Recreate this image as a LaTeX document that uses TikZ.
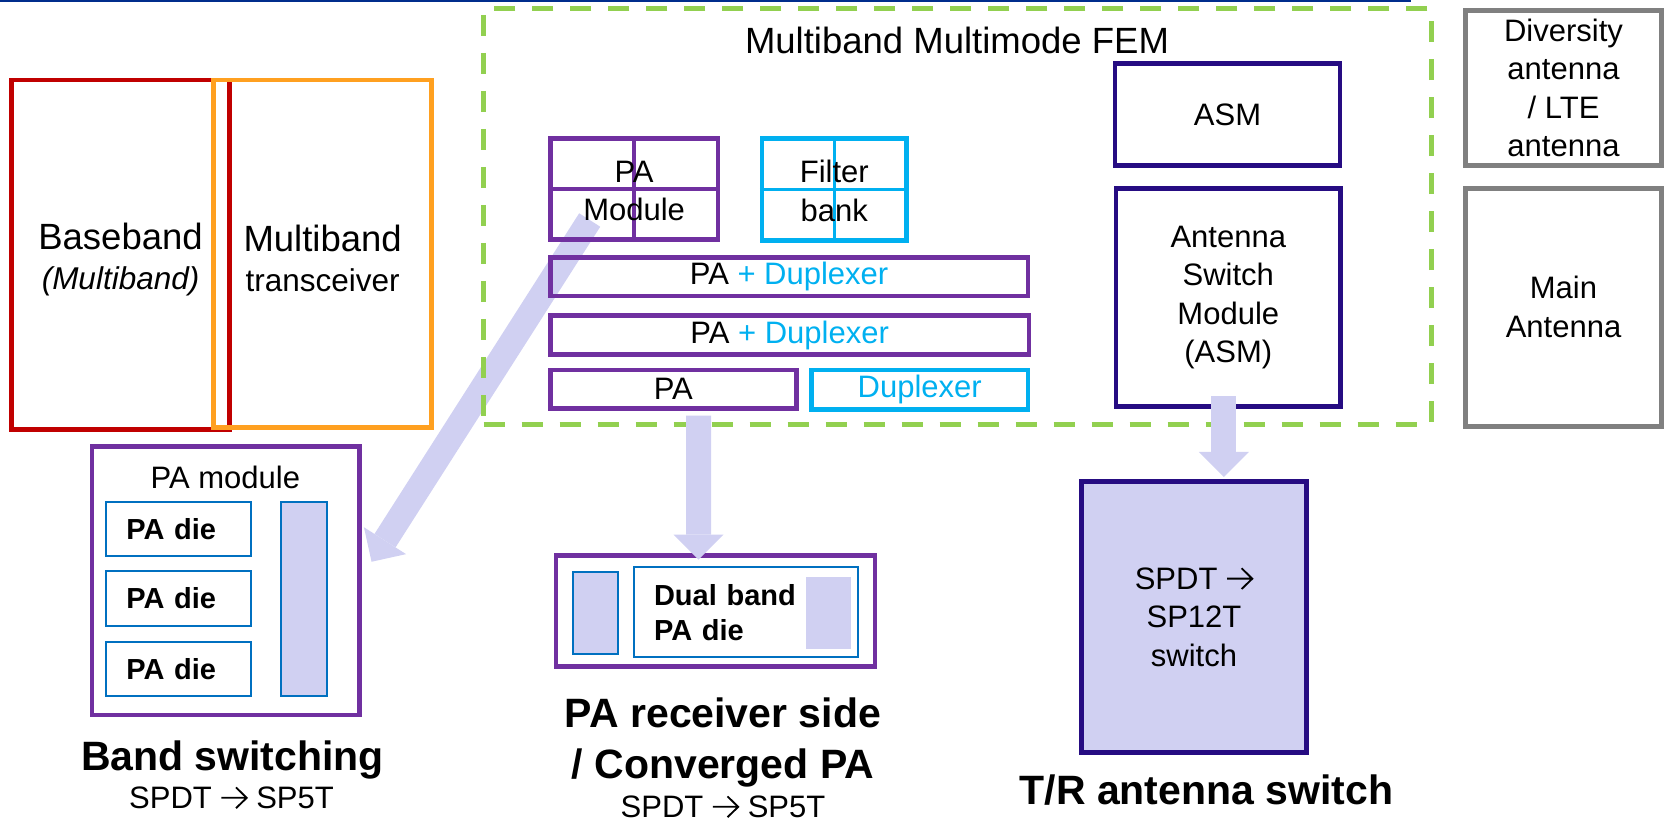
\documentclass[tikz,border=0pt]{standalone}
\usepackage{fontspec}
\setmainfont{Liberation Sans}
\usetikzlibrary{arrows.meta,backgrounds}

\definecolor{bbred}{HTML}{C00000}
\definecolor{trxorange}{HTML}{FFA020}
\definecolor{femgreen}{HTML}{92D050}
\definecolor{papurple}{HTML}{7030A0}
\definecolor{filtcyan}{HTML}{00B0F0}
\definecolor{asmindigo}{RGB}{38,12,130}
\definecolor{antgray}{HTML}{808080}
\definecolor{dieblue}{HTML}{0070C0}
\definecolor{lav}{RGB}{208,208,242}
\definecolor{slideblue}{RGB}{0,45,140}

\newcommand{\titlefont}{\fontsize{36.5}{40}\selectfont}
\newcommand{\subtitlefont}{\fontsize{31.5}{40}\selectfont}
\newcommand{\boxfont}{\fontsize{31}{38.5}\selectfont}
\newcommand{\diefont}{\fontsize{29}{35}\selectfont\bfseries}
\newcommand{\capfont}{\fontsize{41}{51.7}\selectfont\bfseries}
\newcommand{\wingarrow}{\tikz [baseline=0pt, x=1em, y=1em] \draw [line width=0.06em] (0.02,0.345) -- (0.82,0.345) (0.49,0.01) -- (0.835,0.345) -- (0.49,0.68);}

\tikzset{
	box/.style={draw, rectangle, line width=4.5pt, inner sep=0pt, align=center, font=\boxfont},
	fembox/.style={draw=femgreen, rectangle, line width=5pt, dash pattern=on 21pt off 17pt, inner sep=0pt},
	diebox/.style={draw=dieblue, rectangle, line width=2pt, inner sep=0pt},
	swbar/.style={diebox, fill=lav},
	fatarrow/.style={draw=lav, line width=25pt, -{Triangle[width=50pt,length=25pt,line width=0pt]}},
	caption/.style={font=\capfont, align=center},
	swnote/.style={anchor=base, font=\boxfont}
}

\begin{document}
\begin{tikzpicture}[x=1pt,y=-1pt]
			\useasboundingbox (0,0) rectangle (1672,822);
			\draw [slideblue, line width=1.5pt] (0,0.75) -- (1411,0.75);
			% baseband and transceiver
			\node [box, draw=bbred, minimum width=218.1pt, minimum height=349.3pt] (bb) at (120.55,254.65) {};
			\node [box, draw=trxorange, minimum width=218.1pt, minimum height=347.3pt] (trx) at (322.65,253.65) {};
			\node [font=\titlefont, align=center] (bbtext) at (120.55,260) {Baseband\\{\subtitlefont\itshape (Multiband)}};
			\node [font=\titlefont, align=center] (trxtext) at (322.65,258.5) {Multiband\\{\subtitlefont transceiver}};
			% front end module
			\node [fembox, minimum width=948pt, minimum height=415.7pt] (fem) at (957.7,216.35) {};
			\node [anchor=base, font=\titlefont] (femtitle) at (957,53.3) {Multiband Multimode FEM};
			\node [box, draw=papurple, minimum width=167.6pt, minimum height=101pt] (pam) at (634.1,188.8) {};
			\draw [papurple, line width=3.5pt] (pam.north) -- (pam.south) (pam.west) -- (pam.east);
			\node [font=\boxfont, align=center] (pamtext) at (634.1,191) {PA\\Module};
			\node [box, draw=filtcyan, minimum width=144.6pt, minimum height=102.4pt] (filt) at (834.3,189.5) {};
			\draw [filtcyan, line width=3.5pt] (filt.north) -- (filt.south) (filt.west) -- (filt.east);
			\node [font=\boxfont, align=center] (filttext) at (834.3,191) {Filter\\bank};
			\node [box, draw=papurple, minimum width=477.6pt, minimum height=38.7pt] (padup1) at (789.1,276.65) {PA \textcolor{filtcyan}{+ Duplexer}};
			\node [box, draw=papurple, minimum width=478.7pt, minimum height=38.6pt] (padup2) at (789.65,335) {PA \textcolor{filtcyan}{+ Duplexer}};
			\node [box, draw=papurple, minimum width=246.1pt, minimum height=38.3pt] (pab) at (673.35,389.15) {PA};
			\node [box, draw=filtcyan, text=filtcyan, minimum width=216.3pt, minimum height=39.3pt] (dupb) at (919.75,389.65) {Duplexer};
			\node [box, draw=asmindigo, minimum width=225pt, minimum height=102.4pt] (asm) at (1227.5,114.5) {ASM};
			\node [box, draw=asmindigo, minimum width=224.7pt, minimum height=218.4pt] (asmsw) at (1228.3,297.5) {Antenna\\Switch\\Module\\(ASM)};
			% antennas
			\node [box, draw=antgray, line width=5pt, minimum width=196pt, minimum height=155.7pt] (divant) at (1563.5,87.85) {Diversity\\antenna\\/ LTE\\antenna};
			\node [box, draw=antgray, line width=5pt, minimum width=196pt, minimum height=237.7pt] (mainant) at (1563.5,307.15) {Main\\Antenna};
			% band switching
			\node [box, draw=papurple, minimum width=267.9pt, minimum height=268.3pt] (band) at (225.75,580.85) {};
			\node [anchor=base, font=\boxfont] (bandtitle) at (225.4,488.3) {PA module};
			\foreach \y [count=\i] in {528.8,598.4,669.2}
				\node [diebox, text width=104.3pt, inner xsep=20pt, minimum height=54.3pt, align=left, font=\diefont] (die\i) at (178.5,\y) {PA die};
			\node [swbar, minimum width=45.9pt, minimum height=194.3pt] (bandsw) at (304.25,598.85) {};
			\node [caption, anchor=base] (bandcap) at (232.5,770) {Band switching};
			\node [swnote] (bandnote) at (231.5,808.5) {SPDT\ \wingarrow\ SP5T};
			% converged PA
			\node [box, draw=papurple, minimum width=319pt, minimum height=111pt] (conv) at (715.5,611) {};
			\node [swbar, minimum width=45pt, minimum height=82pt] (convsw) at (595.2,613.3) {};
			\node [diebox, text width=183.7pt, inner xsep=20.3pt, minimum height=90pt, align=left, font=\diefont] (dualdie) at (745.9,612.3) {Dual band\\PA die};
			\node [fill=lav, inner sep=0pt, minimum width=44.7pt, minimum height=72pt] (dualsw) at (828.4,613.3) {};
			\node [caption] (convcap) at (723,742.5) {PA receiver side\\/ Converged PA};
			\node [swnote] (convnote) at (723,817.5) {SPDT\ \wingarrow\ SP5T};
			% antenna switch
			\node [box, draw=asmindigo, fill=lav, minimum width=225.3pt, minimum height=271pt] (trsw) at (1194,617) {SPDT\ \wingarrow\\SP12T\\switch};
			\node [caption, anchor=base] (trcap) at (1206.5,804) {T/R antenna switch};
			% arrows
			\begin{scope}[on background layer]
				\draw [fatarrow] ([xshift=-44.4pt,yshift=-31.2pt]pam.center) -- ([xshift=9.6pt,yshift=19.1pt]band.east);
			\end{scope}
			\draw [fatarrow] ([xshift=25.2pt,yshift=-5pt]pab.south) -- ([xshift=-17pt,yshift=-6.3pt]conv.north);
			\draw [fatarrow] ([xshift=-4.5pt,yshift=12.7pt]asmsw.south) -- ([xshift=29.8pt,yshift=2.3pt]trsw.north);
		\end{tikzpicture}
\end{document}
